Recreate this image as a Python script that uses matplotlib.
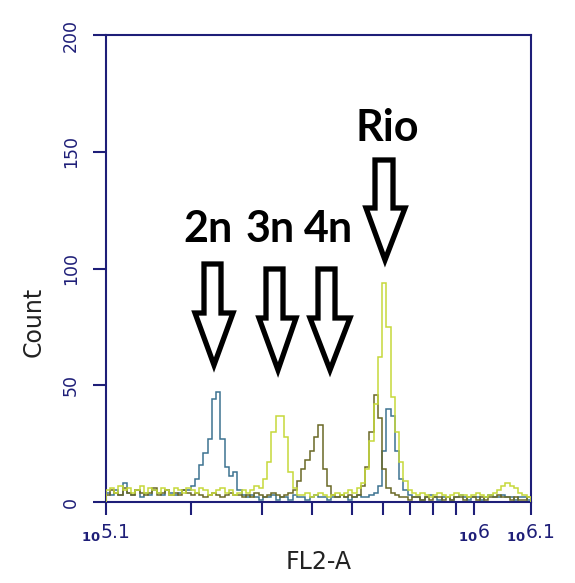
import numpy as np
import matplotlib
matplotlib.use("Agg")
import matplotlib.pyplot as plt
from matplotlib.patches import Polygon
from matplotlib.scale import FuncScale

# ---------------- data ----------------
# counts per channel (100 channels spanning 10^5.1 .. 10^6.1)
blue_counts = ([4, 3, 5, 3, 8, 4, 3, 5, 2, 4, 3, 5, 4, 3, 5, 4, 3, 4, 5]
               + [5]
               + [7, 10, 16, 21, 27, 44, 47, 27, 15, 11, 13, 5, 3]
               + [2, 3, 2, 1, 2, 2, 3, 1, 2, 2, 1, 3, 2, 2, 1, 2, 3, 2, 2, 1, 2, 2, 3, 2, 1, 2, 3, 2, 2, 3, 4]
               + [7, 22, 40, 37, 22, 10, 5, 3]
               + [2, 2, 1, 2, 3, 2, 1, 2, 2, 1, 2, 3, 2, 1, 2, 2, 1, 2, 3, 2, 2, 3, 2, 2, 1, 2, 2, 1])
yellow_counts = ([5, 6, 4, 7, 5, 6, 4, 5, 7, 4, 6, 5, 4, 6, 5, 3, 6, 5, 4, 6]
                 + [5, 4, 6, 5, 3, 4, 5, 6, 4, 5, 3, 4, 5, 4, 5]
                 + [7]
                 + [6, 10, 17, 30, 37, 37, 28, 13, 6, 3]
                 + [3, 4, 2, 3, 4, 3, 2, 3, 4, 3, 4, 5, 4, 6]
                 + [8, 14, 26, 42, 62, 94, 75, 45, 30, 17, 9, 5]
                 + [4, 3, 4, 3, 2, 3, 4, 3, 2, 3, 4, 3, 3, 2, 3, 4, 3, 2, 3, 4, 5, 7, 8, 7, 6, 4, 3, 2])
olive_counts = ([3, 5, 4, 3, 6, 4, 3, 5, 4, 3, 4, 6, 3, 4, 5, 3, 4, 3, 5, 4]
                + [3, 4, 3, 2, 3, 4, 3, 2, 3, 4, 3, 3, 2, 3, 2, 4, 3, 2, 3, 4, 3, 2, 3, 4]
                + [5, 9, 14, 18, 22, 28, 33, 14, 7, 3]
                + [2, 3, 2, 3, 2, 3]
                + [7, 15, 30, 46, 36, 14, 6, 4]
                + [3, 2, 2, 1, 2, 2, 1, 2, 1, 2, 2, 1, 2, 1, 2, 2, 1, 2, 2, 1, 2, 1, 2, 2, 3, 2, 2, 1, 2, 1, 1, 2])

x_min_exp, x_max_exp = 5.1, 6.1
x_tick_values = [10 ** 5.1, 2e5, 3e5, 4e5, 5e5, 6e5, 7e5, 8e5, 9e5, 1e6, 10 ** 6.1]
x_tick_labels = [r'$_{\mathbf{10}}$5.1', '', '', '', '', '', '', '', '', r'$_{\mathbf{10}}$6', r'$_{\mathbf{10}}$6.1']
# axis position fraction of each tick (as drawn by the instrument software)
x_tick_fracs = [0.0, 0.202, 0.367, 0.485, 0.580, 0.652, 0.715, 0.770, 0.824, 0.865, 1.0]
y_ticks = [0, 50, 100, 150, 200]
labels = ["2n", "3n", "4n", "Rio"]

# ---------------- scale ----------------
L = np.log10(np.array(x_tick_values))
F = np.array(x_tick_fracs)
s0 = (F[1] - F[0]) / (L[1] - L[0])
s1 = (F[-1] - F[-2]) / (L[-1] - L[-2])


def fwd(x):
    x = np.asarray(x, dtype=float)
    with np.errstate(divide='ignore', invalid='ignore'):
        l = np.log10(np.where(x > 0, x, np.nan))
    u = np.interp(l, L, F)
    u = np.where(l < L[0], F[0] + (l - L[0]) * s0, u)
    u = np.where(l > L[-1], F[-1] + (l - L[-1]) * s1, u)
    return u


def inv(u):
    u = np.asarray(u, dtype=float)
    l = np.interp(u, F, L)
    l = np.where(u < F[0], L[0] + (u - F[0]) / s0, l)
    l = np.where(u > F[-1], L[-1] + (u - F[-1]) / s1, l)
    return 10 ** l


W, H = 575, 583
fig = plt.figure(figsize=(W / 100, H / 100), dpi=100)
fig.patch.set_facecolor('white')
ax_l, ax_r, ax_t, ax_b = 105.5, 531.0, 35.0, 502.0
ax = fig.add_axes([ax_l / W, 1 - ax_b / H, (ax_r - ax_l) / W, (ax_b - ax_t) / H])
ax.set_xscale(FuncScale(ax, (fwd, inv)))

n = len(blue_counts)
edges = inv(np.linspace(0, 1, n + 1))

c_blue = '#3d7391'
c_olive = '#6a6826'
c_yellow = '#c6d83a'
ax.stairs(blue_counts, edges, color=c_blue, lw=1.1, zorder=2)
ax.stairs(olive_counts, edges, color=c_olive, lw=1.1, zorder=3)
ax.stairs(yellow_counts, edges, color=c_yellow, lw=1.1, zorder=4)

ax.set_xlim(10 ** x_min_exp, 10 ** x_max_exp)
ax.set_ylim(0, 200)

navy = '#1e1e78'
for sp in ax.spines.values():
    sp.set_color(navy)
    sp.set_linewidth(1.5)

ax.set_xticks(x_tick_values)
ax.set_xticklabels(x_tick_labels)
ax.xaxis.set_minor_locator(matplotlib.ticker.NullLocator())
ax.set_yticks(y_ticks)
ax.set_yticklabels([str(v) for v in y_ticks])
ax.tick_params(axis='x', direction='out', length=9, width=1.5, color=navy,
               labelcolor=navy, labelsize=13.5, pad=6)
ax.tick_params(axis='y', direction='out', length=9.5, width=1.5, color=navy,
               labelcolor=navy, labelsize=12.5, pad=9, labelrotation=90)
for t in ax.get_yticklabels():
    t.set_va('center')

ax.set_xlabel('FL2-A', fontsize=17, color='#222222')
ax.set_ylabel('Count', fontsize=17, color='#222222')
ax.xaxis.set_label_coords(0.5, (ax_b - 550) / (ax_b - ax_t))
ax.yaxis.set_label_coords((46 - ax_l) / (ax_r - ax_l), (ax_b - 322) / (ax_b - ax_t))

# ---------------- annotations ----------------
def fx(px):
    return px / W


def fy(py):
    return 1 - py / H


text_pos = [(208, 242), (270, 242), (328, 242), (387, 141)]
for lab, (px, py) in zip(labels, text_pos):
    fig.text(fx(px), fy(py), lab, fontsize=31, fontweight='bold', family='Lato',
             ha='center', va='baseline', color='black', zorder=6)

# arrows: (shaft x0, shaft x1, top, head y, head x0, head x1, tip x, tip y)
arrows = [(204, 221, 264, 313, 195, 233, 214, 365),
          (266, 283, 269, 318, 259, 296, 278, 370),
          (318, 335, 269, 318, 310, 350, 330, 370),
          (375, 393, 160, 208, 366, 405, 385, 260)]
for (x0, x1, yt, yh, hx0, hx1, tx, ty) in arrows:
    pts = [(x0, yt), (x1, yt), (x1, yh), (hx1, yh), (tx, ty), (hx0, yh), (x0, yh)]
    poly = Polygon([(fx(a), fy(b)) for a, b in pts], closed=True,
                   facecolor='white', edgecolor='black', lw=3.8,
                   joinstyle='miter', transform=fig.transFigure, zorder=5)
    fig.add_artist(poly)

fig.savefig('out.png', dpi=100, facecolor='white')
